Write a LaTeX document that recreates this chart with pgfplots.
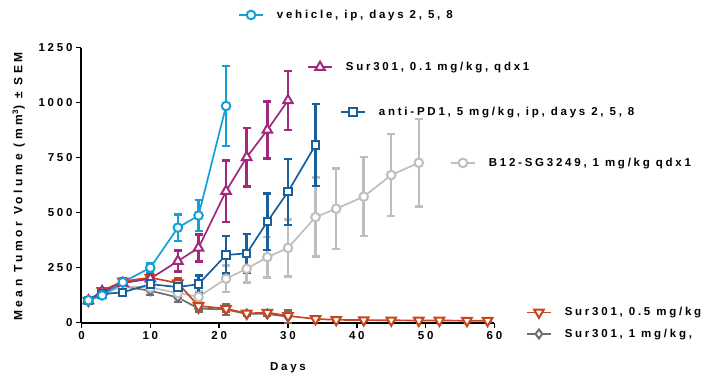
\documentclass[border=0pt]{standalone}
\usepackage{fontspec}
\setmainfont{Liberation Sans}[LetterSpace=24]
\newfontfamily\ylfont{Liberation Sans}[LetterSpace=30]
\usepackage{pgfplots}
\pgfplotsset{compat=1.18}
\definecolor{cveh}{RGB}{20,160,215}
\definecolor{cs01}{RGB}{160,40,125}
\definecolor{cpd}{RGB}{25,95,155}
\definecolor{cb12}{RGB}{190,190,190}
\definecolor{cs05}{RGB}{200,70,30}
\definecolor{cs1}{RGB}{110,110,110}
\newcommand\lf{\fontsize{11.5pt}{13pt}\selectfont\bfseries}
\newcommand\yf{\ylfont\fontsize{12pt}{14pt}\selectfont\bfseries}
\pgfplotsset{
  ser/.style={color=#1, line width=1.7pt, mark options={solid, fill=white, line width=2pt},
    error bars/y dir=both, error bars/y explicit,
    error bars/error bar style={line width=2.5pt, solid},
    error bars/error mark options={rotate=90, mark size=4pt, line width=2.5pt}},
  lg/.style={color=#1, line width=1.7pt, mark options={solid, fill=white, line width=2pt}},
  geom/.style={at={(0pt,0pt)}, anchor=south west, width=413pt, height=275pt, scale only axis,
    xmin=0, xmax=60, ymin=0, ymax=1250},
  lgax/.style={geom, hide axis,
    legend image code/.code={\draw[mark repeat=2, mark phase=2] plot coordinates {(0pt,0pt) (12pt,0pt) (24pt,0pt)};},
    legend style={at={(#1)}, anchor=west, draw=none, fill=none, inner sep=0pt, font=\lf,
      nodes={inner sep=0pt}, /tikz/every odd column/.append style={column sep=13pt}},
    legend cell align=left}
}
\begin{document}
\lf
\begin{tikzpicture}
\begin{axis}[geom,
  axis x line*=bottom, axis y line*=left,
  axis line style={line width=2pt, black},
  xtick={0,10,...,60}, ytick={0,250,...,1250},
  tick align=outside, major tick length=5pt,
  tick style={line width=1.6pt, black},
  /pgf/number format/assume math mode=true,
  /pgf/number format/1000 sep={},
  scaled ticks=false,
  tick label style={font=\lf},
  xlabel={Days}, ylabel={Mean Tumor Volume (mm\textsuperscript{3}) \textpm{} SEM},
  every axis x label/.style={at={(axis description cs:0.5,-0.164)}, anchor=center, font=\lf},
  every axis y label/.style={at={(axis description cs:-0.152,0.495)}, rotate=90, anchor=center, font=\yf},
  clip=false]
% Sur301, 1 mg/kg
\addplot[ser=cs1, mark=diamond*, mark size=4.5pt] coordinates {
(1,100)+-(0,10) (3,140)+-(0,12) (6,165)+-(0,15) (10,145)+-(0,18) (14,115)+-(0,20) (17,64)+-(0,12) (21,60)+-(0,25) (24,40)+-(0,10) (27,40)+-(0,10) (30,27)+-(0,28)};
% B12-SG3249
\addplot[ser=cb12, mark=*, mark size=4.3pt] coordinates {
(1,100)+-(0,10) (3,128)+-(0,12) (6,165)+-(0,15) (10,160)+-(0,20) (14,135)+-(0,25) (17,118)+-(0,25) (21,200)+-(0,60) (24,245)+-(0,62) (27,298)+-(0,92) (30,340)+-(0,130) (34,480)+-(0,180) (37,518)+-(0,182) (41,573)+-(0,180) (45,671)+-(0,186) (49,727)+-(0,198)};
% Sur301, 0.5 mg/kg
\addplot[ser=cs05, mark=triangle*, mark size=5.5pt, every mark/.append style={rotate=180}] coordinates {
(1,100)+-(0,10) (3,145)+-(0,12) (6,188)+-(0,15) (10,205)+-(0,18) (14,180)+-(0,20) (17,76)+-(0,12) (21,64)+-(0,12) (24,42)+-(0,8) (27,46)+-(0,10) (30,31)+-(0,6) (34,17)+-(0,5) (37,13)+-(0,4) (41,12)+-(0,3) (45,11)+-(0,3) (49,10)+-(0,3) (52,10)+-(0,3) (56,9)+-(0,3) (59,9)+-(0,3)};
% Sur301, 0.1 mg/kg
\addplot[ser=cs01, mark=triangle*, mark size=5.5pt] coordinates {
(1,100)+-(0,12) (3,142)+-(0,15) (6,180)+-(0,15) (10,200)+-(0,18) (14,280)+-(0,48) (17,340)+-(0,62) (21,598)+-(0,140) (24,752)+-(0,133) (27,876)+-(0,130) (30,1010)+-(0,133)};
% anti-PD1
\addplot[ser=cpd, mark=square*, mark size=3.7pt] coordinates {
(1,102)+-(0,10) (3,130)+-(0,12) (6,138)+-(0,15) (10,175)+-(0,25) (14,162)+-(0,30) (17,175)+-(0,40) (21,308)+-(0,85) (24,315)+-(0,88) (27,459)+-(0,129) (30,595)+-(0,150) (34,808)+-(0,186)};
% vehicle
\addplot[ser=cveh, mark=*, mark size=4.3pt] coordinates {
(1,102)+-(0,10) (3,124)+-(0,12) (6,184)+-(0,15) (10,250)+-(0,18) (14,432)+-(0,60) (17,487)+-(0,70) (21,985)+-(0,182)};
\end{axis}
\begin{axis}[lgax={0.379,1.119}]
\addlegendimage{lg=cveh, mark=*, mark size=4.3pt}
\addlegendentry{vehicle, ip, days 2, 5, 8}
\end{axis}
\begin{axis}[lgax={0.546,0.930}]
\addlegendimage{lg=cs01, mark=triangle*, mark size=5.5pt}
\addlegendentry{Sur301, 0.1 mg/kg, qdx1}
\end{axis}
\begin{axis}[lgax={0.626,0.766}]
\addlegendimage{lg=cpd, mark=square*, mark size=3.7pt}
\addlegendentry{anti-PD1, 5 mg/kg, ip, days 2, 5, 8}
\end{axis}
\begin{axis}[lgax={0.892,0.581}]
\addlegendimage{lg=cb12, mark=*, mark size=4.3pt}
\addlegendentry{B12-SG3249, 1 mg/kg qdx1}
\end{axis}
\begin{axis}[lgax={1.076,0.0364}]
\addlegendimage{lg=cs05, mark=triangle*, mark size=5.5pt, every mark/.append style={rotate=180}}
\addlegendentry{Sur301, 0.5 mg/kg}
\end{axis}
\begin{axis}[lgax={1.076,-0.041}]
\addlegendimage{lg=cs1, mark=diamond*, mark size=4.5pt}
\addlegendentry{Sur301, 1 mg/kg,}
\end{axis}
\pgfresetboundingbox
\path (-81.5pt,-54.3pt) rectangle (620.5pt,322.7pt);
\end{tikzpicture}
\end{document}
